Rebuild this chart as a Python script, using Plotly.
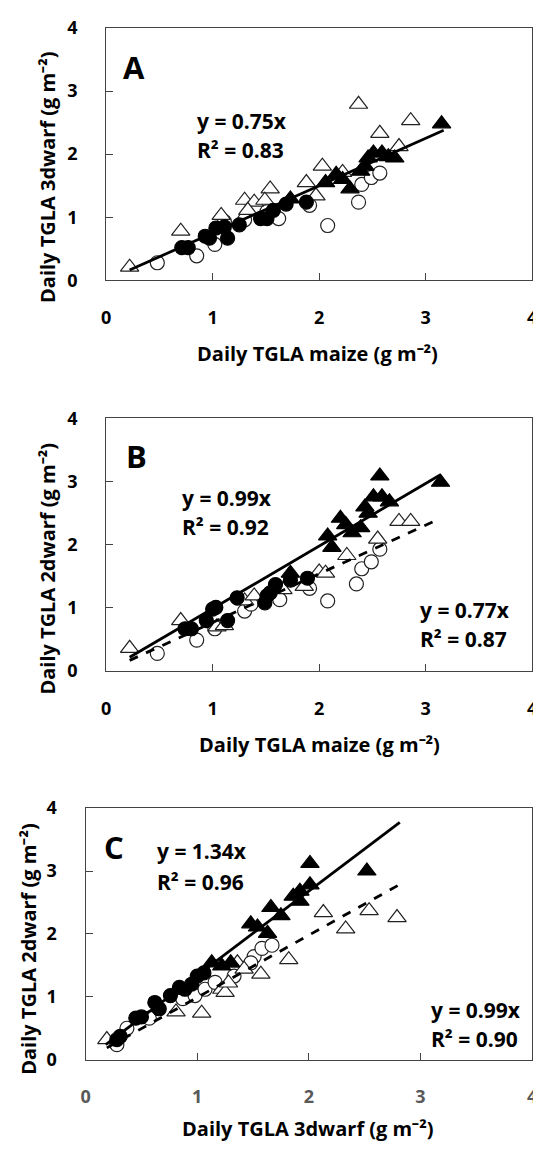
import plotly.graph_objects as go

# page is 541x1159 with the browser's default 8px body margin;
# the figure is sized so the page never scrolls
OFF = 8
W, H = 533, 1143
FONT = "Open Sans"

# ---------------- Panel A: 3dwarf vs maize ----------------
A_open_tri_x = [0.22, 0.70, 1.08, 1.30, 1.39, 1.54, 1.49, 1.88, 1.97, 2.03, 2.22, 2.37, 2.57, 2.75, 2.86, 1.33]
A_open_tri_y = [0.21, 0.78, 1.03, 1.27, 1.24, 1.45, 1.27, 1.55, 1.34, 1.81, 1.71, 2.79, 2.33, 2.12, 2.53, 1.11]
A_open_cir_x = [0.48, 0.85, 1.02, 1.11, 1.30, 1.62, 1.91, 2.08, 2.37, 2.40, 2.49, 2.57, 1.51]
A_open_cir_y = [0.28, 0.39, 0.57, 0.93, 0.96, 0.98, 1.19, 0.87, 1.24, 1.52, 1.63, 1.70, 1.09]
A_fill_cir_x = [0.71, 0.77, 0.93, 0.97, 1.03, 1.14, 1.25, 1.45, 1.51, 1.57, 1.69, 1.88, 1.11]
A_fill_cir_y = [0.52, 0.52, 0.70, 0.67, 0.83, 0.67, 0.88, 0.98, 0.98, 1.11, 1.21, 1.24, 0.85]
A_fill_tri_x = [1.73, 2.06, 2.16, 2.22, 2.29, 2.39, 2.46, 2.51, 2.59, 2.65, 2.71, 3.15, 2.43]
A_fill_tri_y = [1.29, 1.55, 1.68, 1.60, 1.45, 1.73, 1.94, 2.02, 2.02, 1.96, 1.94, 2.48, 1.81]
A_fit_slope = 0.75
A_fit_range = [0.22, 3.17]

# ---------------- Panel B: 2dwarf vs maize ----------------
B_fill_tri_x = [1.73, 2.08, 2.12, 2.20, 2.25, 2.31, 2.39, 2.46, 2.51, 2.57, 2.59, 2.66, 3.14, 2.43]
B_fill_tri_y = [1.55, 2.14, 1.96, 2.42, 2.32, 2.19, 2.27, 2.50, 2.76, 3.09, 2.76, 2.68, 2.99, 2.60]
B_fill_cir_x = [0.74, 0.80, 0.94, 1.00, 1.03, 1.14, 1.23, 1.49, 1.54, 1.59, 1.73, 1.89, 1.51]
B_fill_cir_y = [0.67, 0.67, 0.80, 0.98, 1.01, 0.80, 1.16, 1.08, 1.24, 1.37, 1.44, 1.47, 1.19]
B_open_tri_x = [0.22, 0.70, 1.04, 1.11, 1.30, 1.39, 1.66, 1.86, 2.00, 2.06, 2.26, 2.55, 2.75, 2.86]
B_open_tri_y = [0.36, 0.80, 0.70, 0.72, 1.11, 1.19, 1.29, 1.34, 1.57, 1.55, 1.83, 2.09, 2.37, 2.37]
B_open_cir_x = [0.48, 0.85, 1.02, 1.30, 1.63, 1.91, 2.08, 2.35, 2.40, 2.49, 2.57, 1.36]
B_open_cir_y = [0.28, 0.49, 0.67, 0.95, 1.13, 1.31, 1.11, 1.38, 1.62, 1.73, 1.93, 1.06]
B_fit_solid_slope = 0.99
B_fit_solid_range = [0.22, 3.14]
B_fit_dash_slope = 0.77
B_fit_dash_range = [0.22, 3.12]

# ---------------- Panel C: 2dwarf vs 3dwarf ----------------
C_fill_tri_x = [1.13, 1.22, 1.30, 1.48, 1.54, 1.63, 1.66, 1.75, 1.92, 1.92, 2.01, 2.01, 2.52, 1.86]
C_fill_tri_y = [1.54, 1.49, 1.54, 2.16, 2.11, 2.01, 2.42, 2.29, 2.52, 2.68, 2.78, 3.12, 3.00, 2.60]
C_fill_cir_x = [0.28, 0.31, 0.45, 0.50, 0.62, 0.66, 0.76, 0.84, 0.89, 0.95, 1.00, 1.06]
C_fill_cir_y = [0.32, 0.37, 0.66, 0.68, 0.91, 0.81, 1.02, 1.15, 1.12, 1.20, 1.33, 1.38]
C_open_tri_x = [0.19, 0.81, 1.04, 1.22, 1.25, 1.36, 1.42, 1.57, 1.82, 2.13, 2.33, 2.54, 2.79, 1.28]
C_open_tri_y = [0.32, 0.76, 0.74, 1.12, 1.07, 1.54, 1.44, 1.36, 1.59, 2.34, 2.08, 2.37, 2.26, 1.22]
C_open_cir_x = [0.28, 0.37, 0.57, 0.87, 0.98, 1.07, 1.16, 1.33, 1.51, 1.58, 1.67, 1.48]
C_open_cir_y = [0.24, 0.50, 0.66, 0.97, 1.02, 1.12, 1.23, 1.33, 1.64, 1.77, 1.82, 1.54]
C_fit_solid_slope = 1.34
C_fit_solid_range = [0.18, 2.815]
C_fit_dash_slope = 0.99
C_fit_dash_range = [0.19, 2.815]

tick_vals = [0, 1, 2, 3, 4]
tick_text = ["0", "1", "2", "3", "4"]

fig = go.Figure()

def px_x(p):
    return (p - OFF) / W

def px_y(p):
    return 1 - (p - OFF) / H

# panel boxes in page pixels: (left, right, top, bottom)
boxes = {
    1: (103, 537, 15, 273),
    2: (103, 537, 414, 672),
    3: (82, 537, 812, 1069),
}

def add_markers(n, x, y, symbol, filled):
    xa = "x" if n == 1 else f"x{n}"
    ya = "y" if n == 1 else f"y{n}"
    is_tri = "triangle" in symbol
    fig.add_trace(go.Scatter(
        x=x, y=y, mode="markers", xaxis=xa, yaxis=ya, showlegend=False,
        marker=dict(symbol=symbol, size=16 if is_tri else 14,
                    color="black" if filled else "white",
                    line=dict(color="#222" if not filled else "black", width=1.2)),
    ))

def add_fit(n, slope, xr, dash):
    xa = "x" if n == 1 else f"x{n}"
    ya = "y" if n == 1 else f"y{n}"
    fig.add_trace(go.Scatter(
        x=xr, y=[slope * v for v in xr], mode="lines", xaxis=xa, yaxis=ya,
        showlegend=False, line=dict(color="black", width=2.8, dash=dash),
    ))

# Panel A
add_markers(1, A_open_cir_x, A_open_cir_y, "circle", False)
add_markers(1, A_open_tri_x, A_open_tri_y, "triangle-up", False)
add_markers(1, A_fill_cir_x, A_fill_cir_y, "circle", True)
add_markers(1, A_fill_tri_x, A_fill_tri_y, "triangle-up", True)
add_fit(1, A_fit_slope, A_fit_range, "solid")

# Panel B
add_markers(2, B_open_cir_x, B_open_cir_y, "circle", False)
add_markers(2, B_open_tri_x, B_open_tri_y, "triangle-up", False)
add_markers(2, B_fill_cir_x, B_fill_cir_y, "circle", True)
add_markers(2, B_fill_tri_x, B_fill_tri_y, "triangle-up", True)
add_fit(2, B_fit_solid_slope, B_fit_solid_range, "solid")
add_fit(2, B_fit_dash_slope, B_fit_dash_range, "dash")

# Panel C
add_markers(3, C_open_cir_x, C_open_cir_y, "circle", False)
add_markers(3, C_open_tri_x, C_open_tri_y, "triangle-up", False)
add_markers(3, C_fill_cir_x, C_fill_cir_y, "circle", True)
add_markers(3, C_fill_tri_x, C_fill_tri_y, "triangle-up", True)
add_fit(3, C_fit_solid_slope, C_fit_solid_range, "solid")
add_fit(3, C_fit_dash_slope, C_fit_dash_range, "dash")

layout = dict(
    width=W, height=H, margin=dict(l=0, r=0, t=0, b=0),
    paper_bgcolor="white", plot_bgcolor="white", showlegend=False,
    font=dict(family=FONT, color="black"),
)

x_tick_color = {1: "black", 2: "black", 3: "#595959"}
for n, (l, r, t, b) in boxes.items():
    xk = "xaxis" if n == 1 else f"xaxis{n}"
    yk = "yaxis" if n == 1 else f"yaxis{n}"
    ya = "y" if n == 1 else f"y{n}"
    xa = "x" if n == 1 else f"x{n}"
    common = dict(range=[0, 4], tickvals=tick_vals, ticktext=tick_text,
                  showgrid=False, zeroline=False, showline=True, mirror=True,
                  linecolor="#444", linewidth=1.3, ticks="inside", ticklen=7,
                  tickcolor="#444", tickwidth=1.2, fixedrange=True,
                  ticklabeloverflow="allow")
    layout[xk] = dict(common, domain=[px_x(l), px_x(r)], anchor=ya,
                      ticklabelstandoff=21,
                      tickfont=dict(family=FONT, size=18, color=x_tick_color[n], weight="bold"))
    layout[yk] = dict(common, domain=[px_y(b), px_y(t)], anchor=xa,
                      ticklabelstandoff=24,
                      tickfont=dict(family=FONT, size=18, color="black", weight="bold"))

fig.update_layout(**layout)

ann = []
def txt(n, x, y, text, size=21, xanchor="left"):
    xa = "x" if n == 1 else f"x{n}"
    ya = "y" if n == 1 else f"y{n}"
    ann.append(dict(x=x, y=y, xref=xa, yref=ya, text=text, showarrow=False,
                    xanchor=xanchor, yanchor="middle",
                    font=dict(family=FONT, size=size, color="black", weight="bold")))

# panel letters
txt(1, 0.26, 3.38, "A", size=31, xanchor="center")
txt(2, 0.28, 3.41, "B", size=31, xanchor="center")
txt(3, 0.25, 3.38, "C", size=31, xanchor="center")
# equations
txt(1, 0.83, 2.53, "y = 0.75x")
txt(1, 0.83, 2.06, "R² = 0.83")
txt(2, 0.69, 2.74, "y = 0.99x")
txt(2, 0.69, 2.28, "R² = 0.92")
txt(2, 2.93, 0.96, "y = 0.77x")
txt(2, 2.93, 0.50, "R² = 0.87")
txt(3, 0.62, 3.32, "y = 1.34x")
txt(3, 0.62, 2.83, "R² = 0.96")
txt(3, 3.08, 0.79, "y = 0.99x")
txt(3, 3.08, 0.33, "R² = 0.90")

# axis titles
def title(xp, yp, text, angle=0):
    ann.append(dict(x=px_x(xp), y=px_y(yp), xref="paper", yref="paper", text=text,
                    showarrow=False, xanchor="center", yanchor="middle", textangle=angle,
                    font=dict(family=FONT, size=20, color="black", weight="bold")))

title(318, 348, "Daily TGLA maize (g m⁻²)")
title(320, 747, "Daily TGLA maize (g m⁻²)")
title(309, 1139, "Daily TGLA 3dwarf (g m⁻²)")
title(43, 167, "Daily TGLA 3dwarf (g m⁻²)", -90)
title(43, 567, "Daily TGLA 2dwarf (g m⁻²)", -90)
title(23, 956, "Daily TGLA 2dwarf (g m⁻²)", -90)

fig.update_layout(annotations=ann)
fig.write_html("out.html", config={"displayModeBar": False})
